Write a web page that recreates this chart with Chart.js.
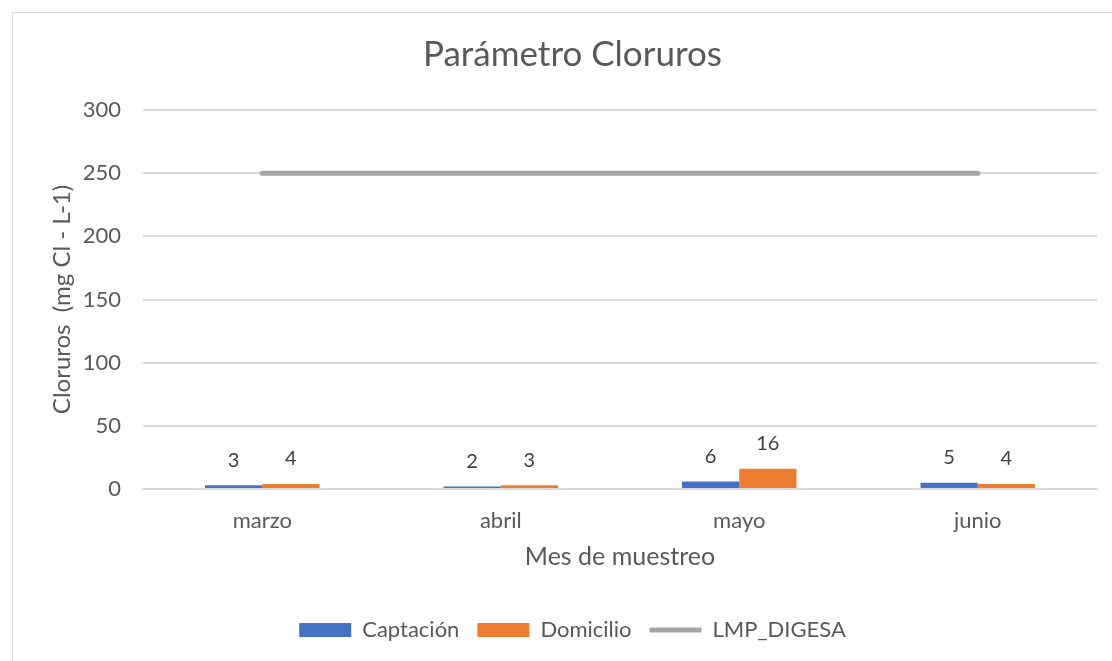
<!DOCTYPE html>
<html>
<head>
<meta charset="utf-8">
<script src="https://cdn.jsdelivr.net/npm/chart.js@4/dist/chart.umd.min.js"></script>
<style>
  body { margin: 0; overflow: hidden; background: #fff; }
  #frame { position: absolute; left: 12px; top: 12px; width: 1200px; height: 700px; border: 1px solid #d9d9d9; }
  #wrap { position: absolute; left: 0; top: 0; width: 1112px; height: 661px; }
</style>
</head>
<body>
<div id="frame"></div>
<div id="wrap"><canvas id="cloruros" width="1112" height="661"></canvas></div>
<script>
var meses = ['marzo', 'abril', 'mayo', 'junio'];
var captacion = [3, 2, 6, 5];
var domicilio = [4, 3, 16, 4];
var lmpDigesa = [250, 250, 250, 250];
var yTicks = [0, 50, 100, 150, 200, 250, 300];

var gris = '#595959';
var fuente = 'Lato, "Open Sans", sans-serif';

// etiquetas de datos encima de las barras
var etiquetas = {
  id: 'etiquetas',
  afterDatasetsDraw: function(chart) {
    var ctx = chart.ctx;
    ctx.save();
    ctx.font = '20px ' + fuente;
    ctx.fillStyle = '#404040';
    ctx.textAlign = 'center';
    ctx.textBaseline = 'middle';
    chart.data.datasets.forEach(function(ds, i) {
      if (ds.type === 'line') return;
      chart.getDatasetMeta(i).data.forEach(function(bar, j) {
        ctx.fillText(ds.data[j], bar.x, bar.y - 25);
      });
    });
    ctx.restore();
  }
};

var ctx = document.getElementById('cloruros').getContext('2d');
var chart = new Chart(ctx, {
  type: 'bar',
  data: {
    labels: meses,
    datasets: [{
      label: 'Captación',
      data: captacion,
      backgroundColor: '#4472c4',
      pointStyle: 'rect',
      categoryPercentage: 0.48,
      barPercentage: 1,
      order: 2
    }, {
      label: 'Domicilio',
      data: domicilio,
      backgroundColor: '#ed7d31',
      pointStyle: 'rect',
      categoryPercentage: 0.48,
      barPercentage: 1,
      order: 2
    }, {
      type: 'line',
      label: 'LMP_DIGESA',
      data: lmpDigesa,
      borderColor: '#a5a5a5',
      backgroundColor: '#a5a5a5',
      borderWidth: 5,
      borderCapStyle: 'round',
      pointRadius: 0,
      pointStyle: 'line',
      order: 1
    }]
  },
  options: {
    responsive: false,
    animation: false,
    devicePixelRatio: 1,
    layout: { padding: { left: 48, right: 15, top: 13, bottom: 10 } },
    plugins: {
      title: {
        display: true,
        text: 'Parámetro Cloruros',
        color: gris,
        font: { family: fuente, size: 35, weight: 'normal' },
        padding: { top: 21, bottom: 34 }
      },
      legend: {
        position: 'bottom',
        labels: {
          usePointStyle: true,
          pointStyleWidth: 52,
          boxHeight: 14,
          color: gris,
          padding: 18,
          font: { family: fuente, size: 22 },
          sort: function(a, b) { return a.datasetIndex - b.datasetIndex; }
        }
      },
      tooltip: { enabled: false }
    },
    scales: {
      x: {
        afterFit: function(axis) { axis.height = 112; },
        grid: { display: false, drawTicks: false },
        border: { color: '#d9d9d9', width: 2 },
        ticks: { color: gris, padding: 19, font: { family: fuente, size: 22 } },
        title: {
          display: true,
          text: 'Mes de muestreo',
          color: gris,
          font: { family: fuente, size: 25 },
          padding: { top: 8, bottom: 29 }
        }
      },
      y: {
        min: 0,
        max: 300,
        afterBuildTicks: function(axis) {
          axis.ticks = yTicks.map(function(v) { return { value: v }; });
        },
        afterFit: function(axis) { axis.width = 95; },
        grid: { color: '#d9d9d9', lineWidth: 2, drawTicks: false },
        border: { display: false },
        ticks: { color: gris, padding: 22, font: { family: fuente, size: 22 } },
        title: {
          display: true,
          text: 'Cloruros  (mg Cl - L-1)',
          color: gris,
          font: { family: fuente, size: 24 },
          padding: { top: 0, bottom: 7 }
        }
      }
    }
  },
  plugins: [etiquetas]
});
</script>
</body>
</html>
